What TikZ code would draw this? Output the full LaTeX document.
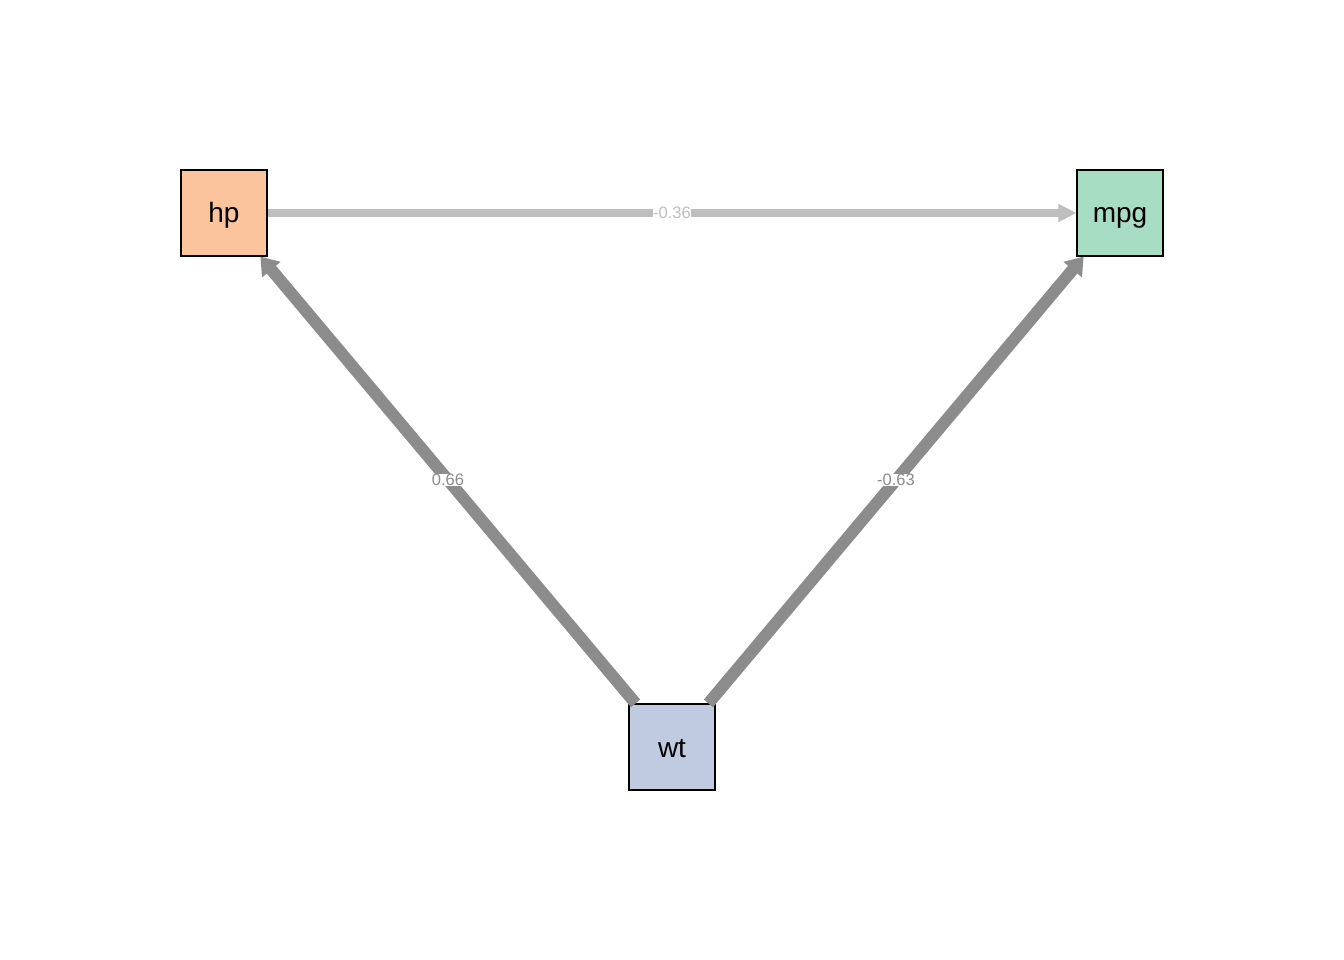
\documentclass[tikz,border=0pt]{standalone}
\usepackage{fontspec}
\setmainfont{Liberation Sans}
\usetikzlibrary{arrows.meta}
\definecolor{hpfill}{HTML}{FCC49D}
\definecolor{mpgfill}{HTML}{A6DDC3}
\definecolor{wtfill}{HTML}{C0CBE2}
\definecolor{edgelight}{HTML}{BEBEBE}
\definecolor{edgedark}{HTML}{8C8C8C}
\tikzset{
  var/.style={draw=black, line width=1.2pt, minimum size=86pt, inner sep=0pt,
    text height=20pt, text depth=0pt,
    font=\fontsize{28}{32}\selectfont},
  lightedge/.style={draw=edgelight, line width=7.5pt,
    -{Triangle[length=18pt, width=17pt]}},
  darkedge/.style={draw=edgedark, line width=12pt,
    -{Triangle[length=17pt, width=23pt]}},
  wlabel/.style={fill=white, inner sep=0.6pt, font=\fontsize{16.5}{18}\selectfont},
}
\begin{document}
\begin{tikzpicture}[x=1pt, y=-1pt]
  \useasboundingbox (0,0) rectangle (1344,960);
  \fill[white] (0,0) rectangle (1344,960);
  % variables
  \node[var, fill=hpfill]  (hp)  at (224,213) {hp};
  \node[var, fill=mpgfill] (mpg) at (1120,213) {mpg};
  \node[var, fill=wtfill]  (wt)  at (672,747) {wt};
  % paths with coefficients
  \draw[lightedge] (hp) -- node[wlabel, text=edgelight] {-0.36} (mpg);
  \draw[darkedge] (wt) -- node[wlabel, text=edgedark] {0.66} (hp);
  \draw[darkedge] (wt) -- node[wlabel, text=edgedark] {-0.63} (mpg);
\end{tikzpicture}
\end{document}
